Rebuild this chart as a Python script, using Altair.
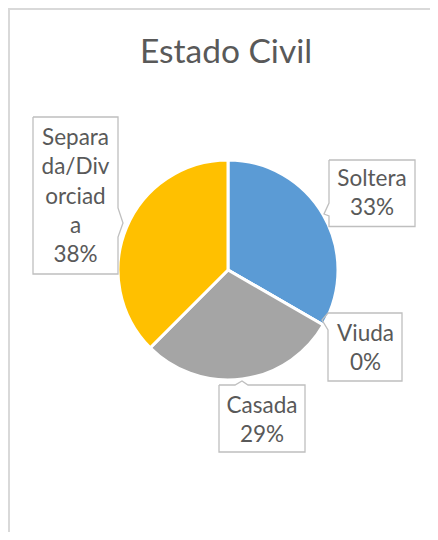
import altair as alt
import pandas as pd

# ---- data ----
categories = ["Soltera", "Viuda", "Casada", "Separada/Divorciada"]
values = [8, 0, 7, 9]
colors = ["#5B9BD5", "#ED7D31", "#A5A5A5", "#FFC000"]
label_lines = [["Soltera"], ["Viuda"], ["Casada"], ["Separa", "da/Div", "orciad", "a"]]
title_text = "Estado Civil"

# ---- layout (page pixel coordinates) ----
W, H = 422, 524
OFF = 8
LH = 29.3
label_center_x = [372, 365.5, 262, 75.5]
label_first_baseline = [186, 341, 413, 145]
label_box = [(329, 415, 160, 226.5), (328, 402, 313, 381), (219, 305, 385, 452), (33, 118, 117, 274)]
box_outline = [
    [(329, 160), (415, 160), (415, 226.5), (329, 226.5), (329, 216), (324, 214), (329, 203), (329, 160)],
    [(328, 313), (402, 313), (402, 381), (328, 381), (328, 330), (322, 320), (328, 313)],
    [(219, 385), (235, 385), (242, 381), (248, 385), (305, 385), (305, 452), (219, 452), (219, 385)],
    [(33, 117), (118, 117), (118, 208), (123, 223), (118, 237), (118, 274), (33, 274), (33, 117)],
]
pie_cx, pie_cy, pie_r = 228, 270, 110

total = sum(values)
pcts = [f"{round(100 * v / total)}%" for v in values]

pie_df = pd.DataFrame({"cat": categories, "value": values, "idx": list(range(len(categories)))})

text_rows = []
for i, cat in enumerate(categories):
    lines = label_lines[i] + [pcts[i]]
    for j, t in enumerate(lines):
        text_rows.append({"tx": label_center_x[i], "ty": label_first_baseline[i] + j * LH, "t": t})
text_df = pd.DataFrame(text_rows)

box_df = pd.DataFrame([{"x0": b[0], "x1": b[1], "y0": b[2], "y1": b[3]} for b in label_box])
outline_rows = []
for i, pts in enumerate(box_outline):
    for k, (px, py) in enumerate(pts):
        outline_rows.append({"box": i, "k": k, "px": px, "py": py})
outline_df = pd.DataFrame(outline_rows)

xs = alt.Scale(domain=[OFF, OFF + W], range=[0, W])
ys = alt.Scale(domain=[OFF, OFF + H], range=[0, H])

pie = alt.Chart(pie_df).mark_arc(stroke="white", strokeWidth=3).encode(
    theta=alt.Theta("value:Q", stack=True),
    order=alt.Order("idx:Q"),
    color=alt.Color("cat:N", scale=alt.Scale(domain=categories, range=colors), legend=None),
    x=alt.value(pie_cx - OFF),
    y=alt.value(pie_cy - OFF),
    radius=alt.value(pie_r),
)

boxes = alt.Chart(box_df).mark_rect(fill="white", strokeWidth=0).encode(
    x=alt.X("x0:Q", scale=xs, axis=None),
    x2="x1:Q",
    y=alt.Y("y0:Q", scale=ys, axis=None),
    y2="y1:Q",
)

outlines = alt.Chart(outline_df).mark_line(color="#BFBFBF", strokeWidth=1.3).encode(
    x=alt.X("px:Q", scale=xs, axis=None),
    y=alt.Y("py:Q", scale=ys, axis=None),
    detail="box:N",
    order="k:Q",
)

texts = alt.Chart(text_df).mark_text(
    font="Lato", fontSize=22.5, color="#595959", align="center", baseline="alphabetic"
).encode(
    x=alt.X("tx:Q", scale=xs, axis=None),
    y=alt.Y("ty:Q", scale=ys, axis=None),
    text="t:N",
)

title = alt.Chart(pd.DataFrame({"t": [title_text]})).mark_text(
    font="Lato", fontSize=33.5, color="#595959", align="center", baseline="alphabetic"
).encode(
    x=alt.value(226 - OFF),
    y=alt.value(63 - OFF),
    text="t:N",
)

border_left = alt.Chart(pd.DataFrame({"a": [0]})).mark_rule(color="#D9D9D9", strokeWidth=2).encode(
    x=alt.value(1), y=alt.value(0), y2=alt.value(H)
)
border_top = alt.Chart(pd.DataFrame({"a": [0]})).mark_rule(color="#D9D9D9", strokeWidth=2).encode(
    x=alt.value(0), x2=alt.value(W), y=alt.value(1)
)

chart = alt.layer(border_left, border_top, pie, boxes, outlines, texts, title).resolve_scale(
    color="independent"
).properties(
    width=W, height=H, autosize=alt.AutoSizeParams(type="none"), padding=0
).configure_view(stroke=None).configure(background="white")

chart.save("out.html", embed_options={"renderer": "svg", "actions": False})
